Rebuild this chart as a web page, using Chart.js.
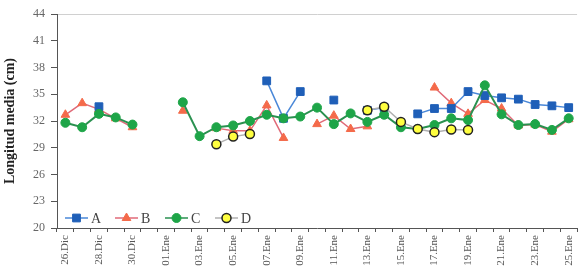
<!DOCTYPE html>
<html>
<head>
<meta charset="utf-8">
<script src="https://cdn.jsdelivr.net/npm/chart.js@4/dist/chart.umd.min.js"></script>
<style>
html,body{margin:0;padding:0;background:#fff;}
canvas{display:block;}
</style>
</head>
<body>
<canvas id="c" width="585" height="279"></canvas>
<script>
const categories = ["26.Dic","27.Dic","28.Dic","29.Dic","30.Dic","31.Dic",
  "01.Ene","02.Ene","03.Ene","04.Ene","05.Ene","06.Ene","07.Ene","08.Ene","09.Ene","10.Ene",
  "11.Ene","12.Ene","13.Ene","14.Ene","15.Ene","16.Ene","17.Ene","18.Ene","19.Ene","20.Ene",
  "21.Ene","22.Ene","23.Ene","24.Ene","25.Ene"];
const seriesA = [null,null,33.6,null,null,null,null,null,null,null,null,null,36.5,32.3,35.3,null,34.35,null,33.2,33.5,null,32.8,33.4,33.4,35.3,34.85,34.6,34.45,33.85,33.7,33.5];
const seriesB = [32.7,34.0,33.3,32.3,31.3,null,null,33.15,null,31.2,30.9,30.9,33.75,30.1,null,31.65,32.6,31.1,31.4,null,null,null,35.75,34.0,32.8,34.35,33.4,31.5,31.6,30.8,32.2];
const seriesC = [31.8,31.3,32.8,32.4,31.6,null,null,34.1,30.3,31.3,31.5,32.0,32.7,32.3,32.5,33.5,31.65,32.85,31.9,32.7,31.3,31.1,31.55,32.3,32.1,36.0,32.75,31.55,31.65,31.0,32.3];
const seriesD = [null,null,null,null,null,null,null,null,null,29.4,30.25,30.55,null,null,null,null,null,null,33.2,33.6,31.9,31.1,30.75,31.05,31.0,null,null,null,null,null,null];
const yTicks = [20,23,26,29,32,35,38,41,44];
const seriesNames = ["A","B","C","D"];
const yTitle = "Longitud media (cm)";

const serif = "'Liberation Serif','DejaVu Serif',serif";

const insideLegend = {
  id: 'insideLegend',
  afterDraw(chart) {
    const ctx = chart.ctx;
    const area = chart.chartArea;
    const y = area.bottom - 10;
    let x = area.left + 8;
    ctx.save();
    chart.data.datasets.forEach(ds => {
      ctx.strokeStyle = ds.borderColor;
      ctx.lineWidth = 1.5;
      ctx.beginPath();
      ctx.moveTo(x, y);
      ctx.lineTo(x + 23, y);
      ctx.stroke();
      ctx.fillStyle = ds.pointBackgroundColor;
      ctx.strokeStyle = ds.pointBorderColor;
      ctx.lineWidth = ds.pointBorderWidth;
      Chart.helpers.drawPoint(ctx, {pointStyle: ds.pointStyle, radius: ds.pointRadius, rotation: 0, borderWidth: ds.pointBorderWidth}, x + 11.5, y);
      ctx.fillStyle = '#444';
      ctx.font = "14px " + serif;
      ctx.textBaseline = 'middle';
      ctx.textAlign = 'left';
      ctx.fillText(ds.label, x + 26, y + 1);
      x += 50;
    });
    ctx.restore();
  }
};

new Chart(document.getElementById('c'), {
  type: 'line',
  data: {
    labels: categories,
    datasets: [
      {label: seriesNames[0], data: seriesA, borderColor: '#4a88d8', borderWidth: 1.5,
       pointStyle: 'rect', pointRadius: 5.5, pointBackgroundColor: '#1f5fb8', pointBorderColor: '#1f5fb8', pointBorderWidth: 1, order: 2},
      {label: seriesNames[1], data: seriesB, borderColor: '#e06a78', borderWidth: 1.5,
       pointStyle: 'triangle', pointRadius: 5, pointBackgroundColor: '#f46a4a', pointBorderColor: '#f46a4a', pointBorderWidth: 1, order: 3},
      {label: seriesNames[2], data: seriesC, borderColor: '#2a9150', borderWidth: 2,
       pointStyle: 'circle', pointRadius: 4.5, pointBackgroundColor: '#1ea548', pointBorderColor: '#1ea548', pointBorderWidth: 1, order: 1},
      {label: seriesNames[3], data: seriesD, borderColor: '#b0b0b0', borderWidth: 1.5,
       pointStyle: 'circle', pointRadius: 4.5, pointBackgroundColor: '#ffff40', pointBorderColor: '#222', pointBorderWidth: 1.5, order: 0}
    ]
  },
  options: {
    responsive: false,
    animation: false,
    spanGaps: false,
    layout: {padding: {top: 14, right: 0, bottom: 0, left: 0}},
    plugins: {legend: {display: false}, tooltip: {enabled: false}},
    scales: {
      x: {
        offset: true,
        grid: {offset: true, drawOnChartArea: false, tickLength: 4, tickColor: '#555'},
        border: {color: '#555', width: 1},
        ticks: {
          autoSkip: false, maxRotation: 90, minRotation: 90, padding: 3,
          color: '#555', font: {family: serif, size: 11},
          callback: function(v, i) { return i % 2 === 0 ? categories[i] : ''; }
        },
        afterFit: s => { s.height = 51; }
      },
      y: {
        min: 20, max: 44,
        afterBuildTicks: s => { s.ticks = yTicks.map(v => ({value: v})); },
        grid: {tickLength: 6, tickColor: '#555',
               color: c => (c.tick && c.tick.value === 44) ? '#d0d0d0' : 'rgba(0,0,0,0)'},
        border: {color: '#555', width: 1},
        ticks: {color: '#666', padding: 6, font: {family: serif, size: 12}},
        title: {display: true, text: yTitle, color: '#222', padding: {top: 2, bottom: 0},
                font: {family: serif, size: 14, weight: 'bold'}},
        afterFit: s => { s.width = 57; }
      }
    }
  },
  plugins: [insideLegend]
});
</script>
</body>
</html>
